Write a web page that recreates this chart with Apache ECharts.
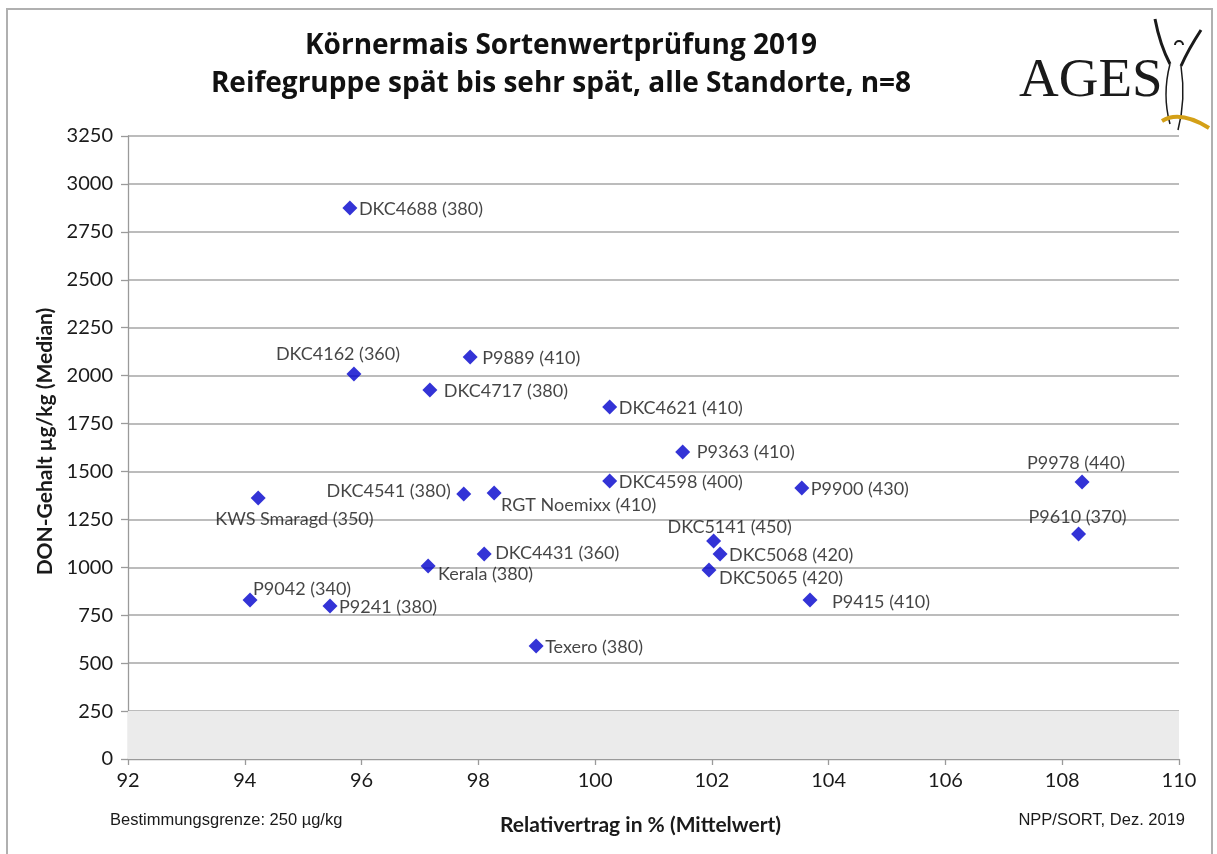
<!DOCTYPE html>
<html>
<head>
<meta charset="utf-8">
<script src="https://cdn.jsdelivr.net/npm/echarts@6/dist/echarts.min.js"></script>
<style>
html,body{margin:0;padding:0;background:#fff;}
#chart{width:1217px;height:854px;}
</style>
</head>
<body>
<div id="chart"></div>
<script>
// ---- data ----
const varieties = ['DKC4688 (380)','DKC4162 (360)','P9889 (410)','DKC4717 (380)','DKC4621 (410)','P9363 (410)','DKC4598 (400)','P9900 (430)','P9978 (440)','P9610 (370)','DKC4541 (380)','RGT Noemixx (410)','KWS Smaragd (350)','DKC4431 (360)','Kerala (380)','DKC5141 (450)','DKC5068 (420)','DKC5065 (420)','P9415 (410)','P9042 (340)','P9241 (380)','Texero (380)'];
const relYield = [95.80, 95.87, 97.86, 97.17, 100.25, 101.50, 100.25, 103.54, 108.34, 108.28, 97.75, 98.27, 94.23, 98.10, 97.14, 102.03, 102.14, 101.95, 103.68, 94.09, 95.46, 98.99];
const donMedian = [2874, 2008, 2097, 1925, 1836, 1602, 1450, 1414, 1445, 1174, 1382, 1388, 1362, 1069, 1007, 1137, 1069, 986, 829, 829, 798, 589];
const xTicks = [92, 94, 96, 98, 100, 102, 104, 106, 108, 110];
const yTicks = [0, 250, 500, 750, 1000, 1250, 1500, 1750, 2000, 2250, 2500, 2750, 3000, 3250];
const detectionLimit = 250;
const titleLines = ['Körnermais Sortenwertprüfung 2019', 'Reifegruppe spät bis sehr spät, alle Standorte, n=8'];

// ---- label layout (offset from marker centre in px, align) ----
const labelLayout = {
  'DKC4162 (360)': [-16, -20, 'center'],
  'P9978 (440)': [-6, -19, 'center'],
  'P9610 (370)': [-1, -17, 'center'],
  'DKC4541 (380)': [-13, -3, 'right'],
  'RGT Noemixx (410)': [7, 12, 'left'],
  'KWS Smaragd (350)': [-43, 21, 'left'],
  'Kerala (380)': [10, 8, 'left'],
  'DKC5141 (450)': [16, -14, 'center'],
  'DKC5065 (420)': [10, 8, 'left'],
  'P9415 (410)': [22, 2, 'left'],
  'P9042 (340)': [3, -11, 'left'],
  'P9889 (410)': [12, 1, 'left'],
  'P9363 (410)': [14, 0, 'left'],
  'DKC4717 (380)': [14, 1, 'left'],
  'DKC4431 (360)': [11, -1, 'left']
};
const FONT = 'Lato, "Open Sans", sans-serif';
const S = 15;

const points = varieties.map((n, i) => {
  const l = labelLayout[n] || [9, 1, 'left'];
  return {
    name: n,
    value: [relYield[i], donMedian[i]],
    label: {
      position: [S / 2 + l[0], S / 2 + l[1]],
      align: l[2],
      verticalAlign: 'middle'
    }
  };
});

const chart = echarts.init(document.getElementById('chart'), null, {renderer: 'canvas'});

const option = {
  backgroundColor: '#fff',
  animation: false,
  grid: {left: 128, right: 38, top: 136, bottom: 95},
  xAxis: {
    type: 'value', min: xTicks[0], max: xTicks[xTicks.length - 1], interval: xTicks[1] - xTicks[0],
    axisLine: {show: true, lineStyle: {color: '#9a9a9a', width: 1.3}},
    axisTick: {show: true, length: 6, lineStyle: {color: '#9a9a9a', width: 1.3}},
    splitLine: {show: false},
    axisLabel: {fontFamily: FONT, fontSize: 20, color: '#1a1a1a', margin: 12},
    name: 'Relativertrag in % (Mittelwert)',
    nameLocation: 'middle', nameGap: 56,
    nameTextStyle: {fontFamily: FONT, fontSize: 21, fontWeight: 'bold', color: '#1a1a1a', padding: [0, 26, 0, 0]}
  },
  yAxis: {
    type: 'value', min: yTicks[0], max: yTicks[yTicks.length - 1], interval: yTicks[1] - yTicks[0],
    axisLine: {show: true, lineStyle: {color: '#9a9a9a', width: 1.3}},
    axisTick: {show: true, length: 7, lineStyle: {color: '#9a9a9a', width: 1.3}},
    splitLine: {show: true, lineStyle: {color: '#a6a6a6', width: 1.5}},
    axisLabel: {fontFamily: FONT, fontSize: 20, color: '#1a1a1a', margin: 15, formatter: v => String(v)},
    name: 'DON-Gehalt µg/kg (Median)',
    nameLocation: 'middle', nameGap: 72, nameRotate: 90,
    nameTextStyle: {fontFamily: FONT, fontSize: 21, fontWeight: 'bold', color: '#1a1a1a', padding: [0, 0, 0, 12]}
  },
  title: [{
    text: titleLines.join('\n'),
    left: 556, top: 22, textAlign: 'center',
    textStyle: {fontFamily: '"Open Sans", Lato, sans-serif', fontSize: 28, fontWeight: 'bold', color: '#111', lineHeight: 38}
  }],
  series: [{
    type: 'scatter',
    symbol: 'diamond',
    symbolSize: S,
    itemStyle: {color: '#0000cc'},
    label: {
      show: true,
      formatter: p => p.name,
      fontFamily: FONT, fontSize: 18, color: '#151515'
    },
    data: points,
    markArea: {
      silent: true,
      itemStyle: {color: '#ebebeb'},
      data: [[{yAxis: 0}, {yAxis: detectionLimit}]]
    },
    z: 3
  }],
  graphic: [
    {type: 'rect', shape: {x: 7, y: 9, width: 1205, height: 860}, style: {fill: 'none', stroke: '#b0b0b0', lineWidth: 2}, silent: true},
    {type: 'text', left: 110, top: 812, style: {text: 'Bestimmungsgrenze: 250 µg/kg', font: '16.5px "Liberation Sans Narrow", sans-serif', fill: '#1a1a1a'}},
    {type: 'text', right: 32, top: 812, style: {text: 'NPP/SORT, Dez. 2019', font: '16.5px "Liberation Sans Narrow", sans-serif', fill: '#1a1a1a'}},
    {type: 'text', left: 1019, top: 54, style: {text: 'AGES', font: '55px "Liberation Serif", "DejaVu Serif", serif', fill: '#1a1a1a'}},
    // figure of the logo
    {type: 'bezierCurve', shape: {x1: 1155, y1: 19, x2: 1170, y2: 64, cpx1: 1160, cpy1: 45}, style: {stroke: '#1a1a1a', lineWidth: 3, fill: 'none'}},
    {type: 'bezierCurve', shape: {x1: 1201, y1: 30, x2: 1181, y2: 66, cpx1: 1188, cpy1: 50}, style: {stroke: '#1a1a1a', lineWidth: 3, fill: 'none'}},
    {type: 'arc', shape: {cx: 1179, cy: 45, r: 4, startAngle: Math.PI, endAngle: Math.PI * 2}, style: {stroke: '#1a1a1a', lineWidth: 2, fill: 'none'}},
    {type: 'bezierCurve', shape: {x1: 1170, y1: 64, x2: 1170, y2: 124, cpx1: 1162, cpy1: 95}, style: {stroke: '#1a1a1a', lineWidth: 1.5, fill: 'none'}},
    {type: 'bezierCurve', shape: {x1: 1181, y1: 66, x2: 1178, y2: 130, cpx1: 1186, cpy1: 100}, style: {stroke: '#1a1a1a', lineWidth: 1.5, fill: 'none'}},
    {type: 'bezierCurve', shape: {x1: 1162, y1: 121, x2: 1209, y2: 128, cpx1: 1180, cpy1: 110}, style: {stroke: '#d4a017', lineWidth: 4, fill: 'none'}}
  ]
};
chart.setOption(option);
</script>
</body>
</html>
